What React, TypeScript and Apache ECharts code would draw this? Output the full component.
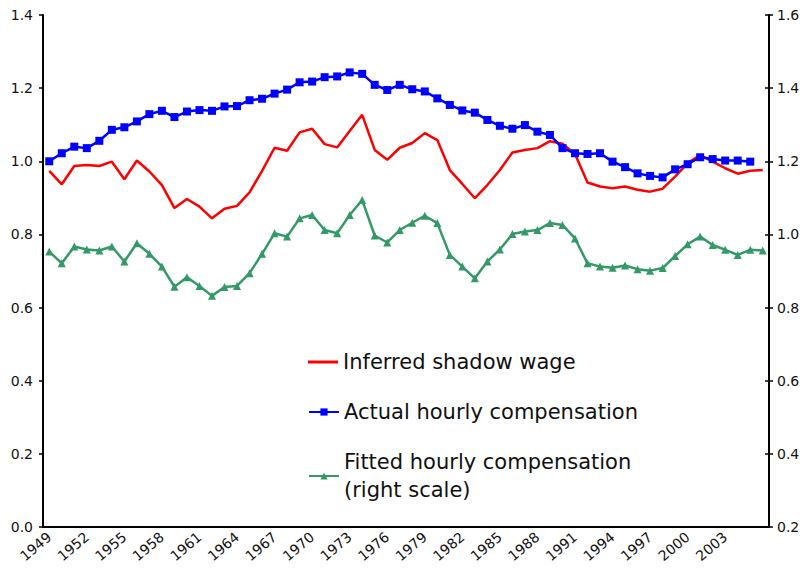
import React, { useEffect, useRef } from "react";
import * as echarts from "echarts";

const years: string[] = [];
for (let y = 1949; y <= 2006; y++) years.push(String(y));

const shadowWage = [
  0.974, 0.937, 0.987, 0.990, 0.987, 0.999, 0.951, 1.002, 0.972, 0.935,
  0.872, 0.897, 0.876, 0.844, 0.870, 0.878, 0.915, 0.974, 1.037, 1.029,
  1.079, 1.089, 1.047, 1.038, 1.083, 1.127, 1.031, 1.004, 1.037, 1.050,
  1.077, 1.058, 0.976, 0.938, 0.899, 0.935, 0.976, 1.024, 1.031, 1.036,
  1.055, 1.048, 1.020, 0.942, 0.931, 0.926, 0.931, 0.922, 0.917, 0.925,
  0.958, 0.995, 1.017, 0.999, 0.981, 0.966, 0.974, 0.976,
];

const actualComp = [
  1.000, 1.022, 1.040, 1.036, 1.056, 1.086, 1.093, 1.109, 1.129, 1.138,
  1.121, 1.136, 1.140, 1.138, 1.150, 1.151, 1.167, 1.171, 1.185, 1.196,
  1.216, 1.218, 1.230, 1.232, 1.243, 1.239, 1.209, 1.195, 1.209, 1.197,
  1.191, 1.172, 1.154, 1.139, 1.133, 1.113, 1.097, 1.089, 1.099, 1.081,
  1.072, 1.036, 1.022, 1.020, 1.022, 0.999, 0.984, 0.967, 0.960, 0.956,
  0.978, 0.992, 1.011, 1.006, 1.002, 1.002, 0.999,
];

const fittedComp = [
  0.953, 0.921, 0.967, 0.959, 0.956, 0.967, 0.926, 0.976, 0.947, 0.912,
  0.857, 0.883, 0.859, 0.832, 0.856, 0.859, 0.894, 0.947, 1.003, 0.994,
  1.044, 1.053, 1.012, 1.003, 1.053, 1.094, 0.997, 0.978, 1.012, 1.032,
  1.051, 1.031, 0.944, 0.912, 0.880, 0.926, 0.959, 1.001, 1.008, 1.012,
  1.031, 1.026, 0.989, 0.921, 0.912, 0.909, 0.915, 0.905, 0.901, 0.908,
  0.941, 0.973, 0.994, 0.971, 0.958, 0.944, 0.958, 0.956,
];

const FONT = "DejaVu Sans";

export default function App() {
  const ref = useRef<HTMLDivElement>(null);
  useEffect(() => {
    if (!ref.current) return;
    const chart = echarts.init(ref.current, undefined, { renderer: "svg" });
    const axisLineStyle = { color: "#000", width: 2 };
    const legendText = { fontFamily: FONT, fontSize: 21, color: "#111", lineHeight: 28 };
    chart.setOption({
      animation: false,
      backgroundColor: "#fff",
      grid: { left: 43, right: 38, top: 15, bottom: 52, containLabel: false },
      legend: [
        {
          data: [{ name: "Inferred shadow wage", icon: "rect" }],
          left: 303, top: 343, itemWidth: 30, itemHeight: 3,
          textStyle: legendText,
        },
        {
          data: ["Actual hourly compensation"],
          left: 303, top: 393, itemWidth: 30, itemHeight: 9,
          textStyle: legendText,
        },
        {
          data: ["Fitted hourly compensation"],
          left: 303, top: 429, itemWidth: 30, itemHeight: 9,
          formatter: (n: string) => n + "\n(right scale)",
          textStyle: { ...legendText, padding: [28, 0, 0, 0] },
        },
      ],
      xAxis: {
        type: "category",
        data: years,
        boundaryGap: true,
        axisLine: { lineStyle: axisLineStyle },
        axisTick: { interval: 0, length: 4, lineStyle: { color: "#000", width: 1.5 } },
        axisLabel: {
          interval: (i: number) => i % 3 === 0 && i < 57,
          rotate: 40,
          margin: 8,
          fontFamily: FONT,
          fontSize: 14,
          color: "#111",
        },
        splitLine: { show: false },
      },
      yAxis: [
        {
          type: "value", min: 0, max: 1.4, interval: 0.2, position: "left",
          axisLine: { show: true, lineStyle: axisLineStyle },
          axisTick: { show: true, length: 4, lineStyle: { color: "#000", width: 1.5 } },
          axisLabel: { margin: 10, fontFamily: FONT, fontSize: 14, color: "#111", formatter: (v: number) => v.toFixed(1) },
          splitLine: { show: false },
        },
        {
          type: "value", min: 0.2, max: 1.6, interval: 0.2, position: "right",
          axisLine: { show: true, lineStyle: axisLineStyle },
          axisTick: { show: true, length: 4, lineStyle: { color: "#000", width: 1.5 } },
          axisLabel: { margin: 8, fontFamily: FONT, fontSize: 14, color: "#111", formatter: (v: number) => v.toFixed(1) },
          splitLine: { show: false },
        },
        {
          type: "value", min: 0.2, max: 1.6, interval: 0.2, position: "right",
          axisLine: { show: false },
          axisTick: { show: true, inside: true, length: 4, lineStyle: { color: "#000", width: 1.5 } },
          axisLabel: { show: false },
          splitLine: { show: false },
        },
      ],
      series: [
        {
          name: "Inferred shadow wage",
          type: "line",
          data: shadowWage,
          yAxisIndex: 0,
          showSymbol: false,
          symbol: "none",
          lineStyle: { color: "#FF0000", width: 2.5 },
          itemStyle: { color: "#FF0000" },
        },
        {
          name: "Actual hourly compensation",
          type: "line",
          data: actualComp,
          yAxisIndex: 0,
          symbol: "rect",
          symbolSize: 8,
          lineStyle: { color: "#0000FF", width: 2.5 },
          itemStyle: { color: "#0000FF" },
        },
        {
          name: "Fitted hourly compensation",
          type: "line",
          data: fittedComp,
          yAxisIndex: 1,
          symbol: "triangle",
          symbolSize: 8,
          lineStyle: { color: "#339966", width: 2.5 },
          itemStyle: { color: "#339966" },
        },
      ],
    });
    return () => chart.dispose();
  }, []);
  return (
    <div
      ref={ref}
      style={{ position: "fixed", left: 0, top: 0, width: 807, height: 579, background: "#fff" }}
    />
  );
}
